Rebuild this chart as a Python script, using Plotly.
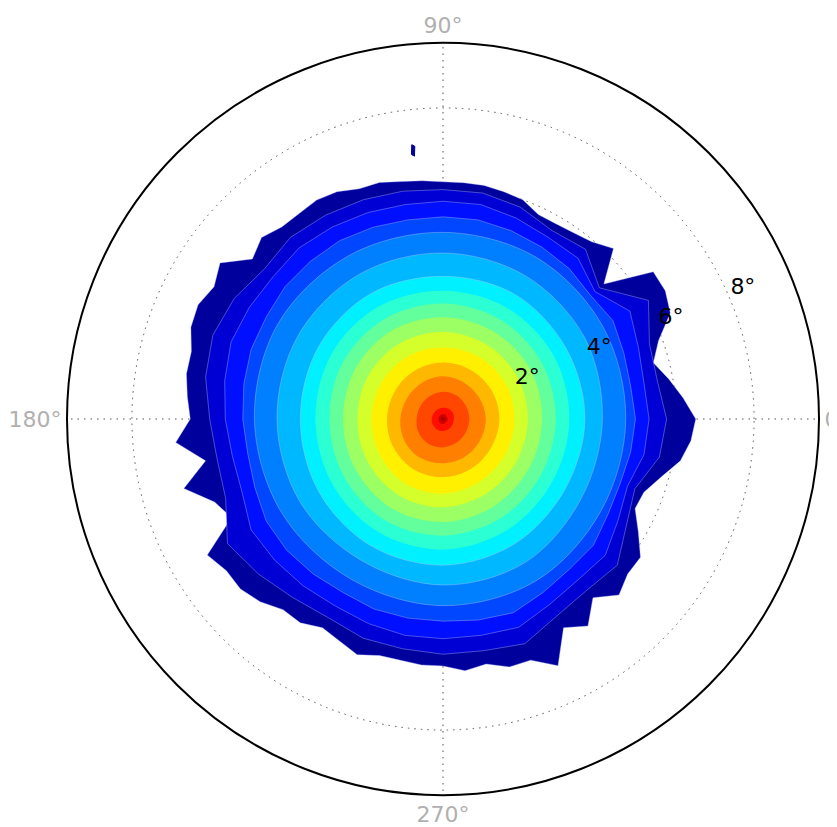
import plotly.graph_objects as go

# ---------------- data (radius in degrees of visual angle) ----------------
# outermost contour band (navy), sampled every 5 degrees of polar angle
theta_fine = list(range(0, 360, 5))
band0_r = [6.5, 6.2, 5.9, 5.6, 5.9, 6.45, 6.6, 6.6, 5.4, 6.2,
           5.95, 5.85, 5.8, 5.8, 6.0, 6.05, 6.1, 6.1, 6.1, 6.15,
           6.2, 6.3, 6.3, 6.45, 6.5, 6.45, 6.45, 6.6, 6.4, 7.0,
           6.8, 6.95, 6.9, 6.7, 6.7, 6.6, 6.5, 6.9, 6.2, 6.9,
           6.25, 6.0, 7.0, 6.8, 6.8, 6.65, 6.4, 6.4, 6.2, 6.3,
           6.45, 6.3, 6.3, 6.35, 6.35, 6.5, 6.4, 6.6, 6.6, 7.0,
           6.2, 6.5, 6.0, 6.4, 6.2, 6.2, 5.8, 5.45, 5.5, 5.8,
           6.2, 6.4]

# next three (blue) bands, sampled every 10 degrees
theta_mid = list(range(0, 360, 10))
band1_r = [5.75, 5.6, 5.65, 6.1, 5.25, 5.7, 5.6, 5.8, 5.9, 5.9,
           5.95, 6.0, 6.05, 6.1, 6.0, 6.2, 6.3, 6.2, 6.0, 5.9,
           5.95, 6.4, 6.2, 6.0, 5.9, 6.0, 6.0, 6.05, 6.05, 6.15,
           5.85, 5.75, 5.85, 5.45, 5.25, 5.65]
band2_r = [5.3, 5.25, 5.35, 5.55, 5.1, 5.4, 5.4, 5.5, 5.6, 5.6,
           5.6, 5.65, 5.7, 5.75, 5.7, 5.75, 5.8, 5.7, 5.6, 5.5,
           5.5, 5.7, 5.65, 5.6, 5.55, 5.6, 5.65, 5.65, 5.65, 5.7,
           5.5, 5.4, 5.45, 5.2, 5.05, 5.25]
band3_r = [4.95, 4.9, 4.95, 5.05, 4.95, 5.05, 5.1, 5.15, 5.2, 5.2,
           5.2, 5.25, 5.3, 5.3, 5.3, 5.25, 5.25, 5.2, 5.15, 5.1,
           5.15, 5.25, 5.25, 5.2, 5.15, 5.2, 5.2, 5.2, 5.25, 5.3,
           5.15, 5.05, 5.05, 4.9, 4.85, 4.9]

# inner bands, sampled every 30 degrees
theta_coarse = list(range(0, 360, 30))
band4_r = [4.7, 4.75, 4.8, 4.8, 4.85, 4.9, 4.85, 4.8, 4.75, 4.8, 4.8, 4.7]
band5_r = [4.1, 4.2, 4.25, 4.27, 4.3, 4.3, 4.27, 4.25, 4.2, 4.27, 4.25, 4.1]
band6_r = [3.65, 3.65, 3.7, 3.67, 3.72, 3.7, 3.67, 3.7, 3.75, 3.76, 3.7, 3.62]
band7_r = [3.25, 3.28, 3.3, 3.3, 3.33, 3.32, 3.28, 3.3, 3.35, 3.36, 3.3, 3.24]
band8_r = [2.9, 2.92, 2.95, 2.97, 2.98, 2.96, 2.92, 2.95, 3.0, 3.0, 2.95, 2.9]
band9_r = [2.55, 2.58, 2.6, 2.62, 2.63, 2.6, 2.57, 2.6, 2.65, 2.65, 2.6, 2.55]
band10_r = [2.18, 2.2, 2.22, 2.24, 2.24, 2.22, 2.2, 2.23, 2.27, 2.27, 2.22, 2.18]
band11_r = [1.84, 1.85, 1.85, 1.84, 1.85, 1.84, 1.84, 1.87, 1.92, 1.92, 1.87, 1.84]
band12_r = [1.45, 1.45, 1.45, 1.45, 1.44, 1.43, 1.44, 1.47, 1.5, 1.5, 1.47, 1.44]
band13_r = [1.1, 1.08, 1.08, 1.1, 1.08, 1.07, 1.1, 1.14, 1.16, 1.14, 1.12, 1.1]
band14_r = [0.68, 0.68, 0.7, 0.7, 0.68, 0.67, 0.68, 0.72, 0.74, 0.73, 0.7, 0.68]
band15_r = [0.28, 0.3, 0.3, 0.29, 0.28, 0.28, 0.29, 0.3, 0.31, 0.31, 0.3, 0.28]
band16_r = [0.12, 0.12, 0.13, 0.13, 0.12, 0.12, 0.12, 0.12, 0.13, 0.13, 0.12, 0.12]
band17_r = [0.05, 0.05, 0.05, 0.05, 0.05, 0.05, 0.05, 0.05, 0.05, 0.05, 0.05, 0.05]

# isolated speck above the main blob
speck_theta = [96.2, 95.9, 96.5, 96.8]
speck_r = [6.8, 7.05, 7.1, 6.85]

radial_ticks = [2, 4, 6, 8]
radial_labels = ['2°', '4°', '6°', '8°']
radial_label_angle = 22.5
angle_ticks = [0, 90, 180, 270]
angle_labels = ['0°', '90°', '180°', '270°']

# jet colours, outermost to innermost band
band_colors = ['#00009C', '#0000D4', '#000FFF', '#0047FF', '#0080FF', '#00B8FF',
               '#00F0FF', '#2BFFD4', '#63FF9C', '#9CFF63', '#D4FF2B', '#FFF000',
               '#FFB800', '#FF8000', '#FF4700', '#FF0F00', '#D40000', '#9C0000']

bands = [
    (theta_fine, band0_r), (theta_mid, band1_r), (theta_mid, band2_r), (theta_mid, band3_r),
    (theta_coarse, band4_r), (theta_coarse, band5_r), (theta_coarse, band6_r),
    (theta_coarse, band7_r), (theta_coarse, band8_r), (theta_coarse, band9_r),
    (theta_coarse, band10_r), (theta_coarse, band11_r), (theta_coarse, band12_r),
    (theta_coarse, band13_r), (theta_coarse, band14_r), (theta_coarse, band15_r),
    (theta_coarse, band16_r), (theta_coarse, band17_r),
]

fig = go.Figure()
for i, (th, rr) in enumerate(bands):
    smooth = len(th) <= 12
    seam = i <= 6
    fig.add_trace(go.Scatterpolar(
        r=list(rr) + [rr[0]], theta=list(th) + [th[0]],
        mode='lines', fill='toself', fillcolor=band_colors[i],
        line=dict(color='rgba(190,200,255,0.55)' if seam else band_colors[i],
                  width=0.7 if seam else 0, shape='spline' if smooth else 'linear'),
        hoverinfo='skip', showlegend=False))

fig.add_trace(go.Scatterpolar(
    r=speck_r + [speck_r[0]], theta=speck_theta + [speck_theta[0]],
    mode='lines', fill='toself', fillcolor=band_colors[0],
    line=dict(color=band_colors[0], width=1), hoverinfo='skip', showlegend=False))

# radial tick labels, drawn horizontally beside the 22.5 degree spoke
fig.add_trace(go.Scatterpolar(
    r=radial_ticks, theta=[radial_label_angle] * len(radial_ticks),
    mode='text', text=radial_labels, textposition='top right',
    textfont=dict(size=22, color='black', family='DejaVu Sans'),
    hoverinfo='skip', showlegend=False, cliponaxis=False))

# the page body adds an 8 px offset; compensate so the circle sits where the reference has it
fig.update_layout(
    width=837, height=827,
    margin=dict(l=0, r=0, t=0, b=0),
    paper_bgcolor='white',
    showlegend=False,
    font=dict(family='DejaVu Sans'),
    polar=dict(
        domain=dict(x=[59 / 837, 811 / 837], y=[1 - 787 / 827, 1 - 35 / 827]),
        bgcolor='white',
        radialaxis=dict(
            range=[0, 9.67], tickvals=radial_ticks, showticklabels=False,
            angle=radial_label_angle,
            showline=False, ticks='', layer='above traces',
            gridcolor='#555555', griddash='1.5px,5px', gridwidth=1.3,
        ),
        angularaxis=dict(
            rotation=0, direction='counterclockwise',
            tickvals=angle_ticks, ticktext=angle_labels, layer='above traces',
            showline=True, linecolor='black', linewidth=2, ticks='',
            gridcolor='#555555', griddash='1.5px,5px', gridwidth=1.3,
            tickfont=dict(size=22, color='#b0b0b0', family='DejaVu Sans'),
        ),
    ),
)

fig.write_html('out.html')
